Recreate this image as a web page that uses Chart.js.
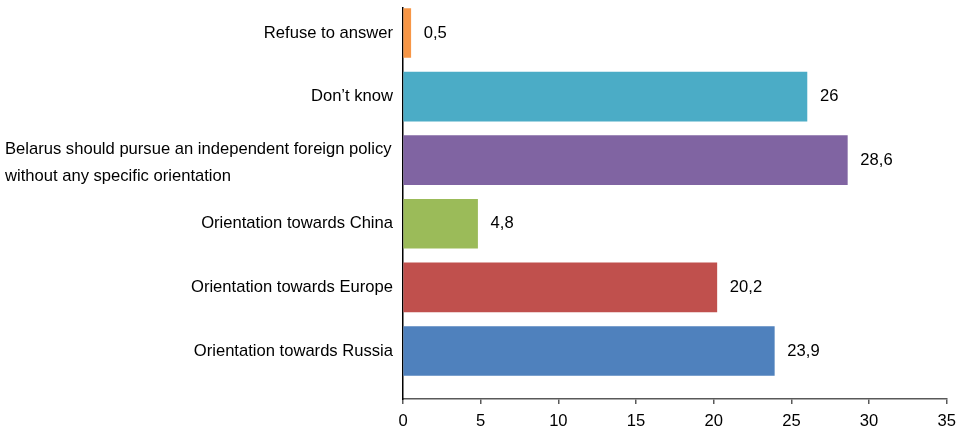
<!DOCTYPE html>
<html>
<head>
<meta charset="utf-8">
<script src="https://cdn.jsdelivr.net/npm/chart.js@4"></script>
<style>
  html, body { margin: 0; padding: 0; background: #fff; }
  #wrap { width: 963px; height: 430px; }
</style>
</head>
<body>
<div id="wrap"><canvas id="answers-chart" width="963" height="430"></canvas></div>
<script>
// Categories, top to bottom
const categories = [
    'Refuse to answer',
    'Don\u2019t know',
    ['Belarus should pursue an independent foreign policy', 'without any specific orientation'],
    'Orientation towards China',
    'Orientation towards Europe',
    'Orientation towards Russia',
];
const shares = [0.5, 26, 28.6, 4.8, 20.2, 23.9];
const barColors = ['#F79646', '#4BACC6', '#8064A2', '#9BBB59', '#C0504D', '#4F81BD'];
const xTicks = [0, 5, 10, 15, 20, 25, 30, 35];

const FAMILY = '"Liberation Sans", Arial, sans-serif';
const FONT = '16.6px ' + FAMILY;

// category names on the left, drawn next to the y scale positions
const categoryLabels = {
    id: 'categoryLabels',
    afterDraw(chart) {
        const ctx = chart.ctx;
        const y = chart.scales.y;
        ctx.save();
        ctx.font = FONT;
        ctx.fillStyle = '#000';
        ctx.textBaseline = 'middle';
        categories.forEach((label, i) => {
            const py = y.getPixelForValue(i);
            if (Array.isArray(label)) {
                ctx.textAlign = 'left';
                const step = 27;
                const start = py - step * (label.length - 1) / 2 + 3;
                label.forEach((line, j) => ctx.fillText(line, 5, start + j * step));
            } else {
                ctx.textAlign = 'right';
                ctx.fillText(label, chart.chartArea.left - 10, py);
            }
        });
        ctx.restore();
    }
};

// value labels at the end of each bar
const valueLabels = {
    id: 'valueLabels',
    afterDatasetsDraw(chart) {
        const ctx = chart.ctx;
        const meta = chart.getDatasetMeta(0);
        ctx.save();
        ctx.font = FONT;
        ctx.fillStyle = '#000';
        ctx.textAlign = 'left';
        ctx.textBaseline = 'middle';
        meta.data.forEach((bar, i) => {
            ctx.fillText(String(shares[i]).replace('.', ','), bar.x + 13, bar.y);
        });
        ctx.restore();
    }
};

new Chart(document.getElementById('answers-chart'), {
    type: 'bar',
    data: {
        datasets: [{
            data: shares.map((v, i) => ({ x: v, y: i })),
            backgroundColor: barColors,
            borderWidth: 0,
            barThickness: 49,
        }],
    },
    options: {
        indexAxis: 'y',
        responsive: false,
        animation: false,
        events: [],
        layout: { padding: { top: 8, right: 16, left: 0, bottom: 0 } },
        plugins: {
            legend: { display: false },
            tooltip: { enabled: false },
        },
        scales: {
            x: {
                type: 'linear',
                min: 0,
                max: 35,
                afterBuildTicks: (s) => { s.ticks = xTicks.map(v => ({ value: v })); },
                afterFit: (s) => { s.height = 31; },
                ticks: {
                    color: '#000',
                    font: { family: FAMILY, size: 16.6 },
                    padding: 7,
                    maxRotation: 0,
                },
                grid: {
                    display: true,
                    drawOnChartArea: false,
                    tickLength: 5,
                    color: '#595959',
                    lineWidth: 1.5,
                },
                border: { display: true, color: '#595959', width: 1.5 },
            },
            y: {
                type: 'linear',
                reverse: true,
                offset: false,
                min: -0.393,
                max: 5.755,
                afterFit: (s) => { s.width = 403; },
                ticks: { display: false },
                grid: { display: false, offset: false },
                border: { display: true, color: '#000', width: 1.5 },
            },
        },
    },
    plugins: [categoryLabels, valueLabels],
});
</script>
</body>
</html>
